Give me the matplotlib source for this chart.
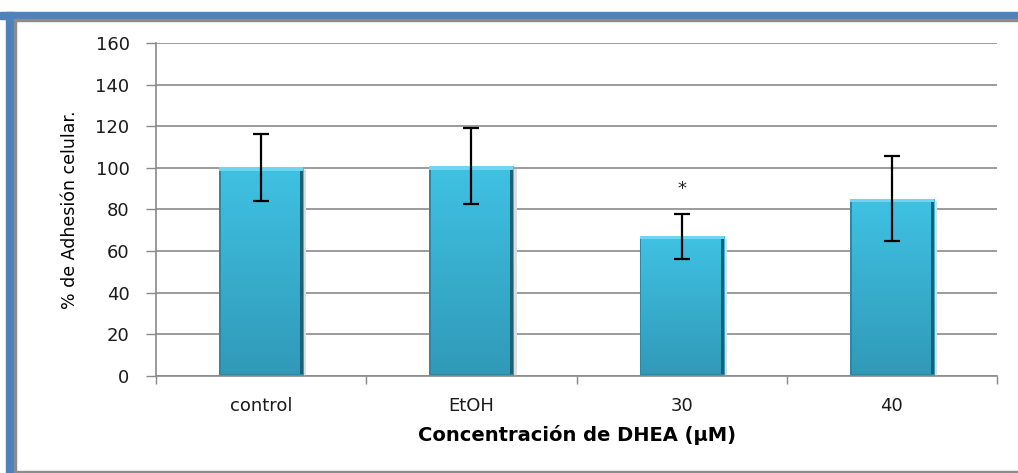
import numpy as np
import matplotlib.pyplot as plt
from matplotlib.patches import Rectangle

categories = ['control', 'EtOH', '30', '40']
adhesion = [100.2, 100.8, 67.2, 85.2]
sd = [16.2, 18.2, 10.8, 20.4]
y_ticks = [0, 20, 40, 60, 80, 100, 120, 140, 160]
signif = ['', '', '*', '']


def draw_frame(fig):
    # blue border on top and left, thin grey inner border
    W, H = 1018, 473
    def box(x0, y0, x1, y1, color):
        fig.patches.append(Rectangle((x0 / W, 1 - y1 / H), (x1 - x0) / W, (y1 - y0) / H,
                                     transform=fig.transFigure, color=color, zorder=0))
    box(0, 12, W, 19, '#4F81BD')
    box(6, 12, 14, H, '#4F81BD')
    box(14, 19, W, 21, '#8C8C8C')
    box(14, 19, 16, H, '#8C8C8C')
    box(14, 471, W, 473, '#8C8C8C')


def gradient_bars(ax, bars):
    grad = np.linspace(0, 1, 256).reshape(-1, 1)
    top = np.array([0.25, 0.76, 0.89])
    bot = np.array([0.19, 0.60, 0.72])
    img = top[None, None, :] * (1 - grad[:, :, None]) + bot[None, None, :] * grad[:, :, None]
    for b in bars:
        x, w, h = b.get_x(), b.get_width(), b.get_height()
        # soft shadow
        ax.add_patch(Rectangle((x + 0.015, -1.2), w, h, color='#dcdcdc', zorder=1.5, lw=0))
        im = ax.imshow(img, extent=(x, x + w, 0, h), aspect='auto', origin='upper', zorder=2)
        im.set_clip_path(b)
        # darker sides, light top rim
        ax.add_patch(Rectangle((x + w * 0.965, 0), w * 0.035, h, color='#1d5f73', zorder=2.2, lw=0))
        ax.add_patch(Rectangle((x, 0), w * 0.02, h, color='#2a8aa5', zorder=2.2, lw=0))
        ax.add_patch(Rectangle((x, h - 1.6), w, 1.6, color='#6fd6f2', zorder=2.2, lw=0))
        ax.add_patch(Rectangle((x, 0), w, 1.2, color='#2a8aa5', zorder=2.2, lw=0))


def main():
    fig = plt.figure(figsize=(10.18, 4.73), dpi=100)
    draw_frame(fig)
    ax = fig.add_axes([156 / 1018, 1 - 376 / 473, (997 - 156) / 1018, (376 - 43) / 473])

    x = np.arange(len(categories))
    bars = ax.bar(x, adhesion, width=0.4, color='none', edgecolor='none', zorder=2)
    gradient_bars(ax, bars)
    ax.errorbar(x, adhesion, yerr=sd, fmt='none', ecolor='black', elinewidth=1.6,
                capsize=5.5, capthick=1.6, zorder=4)
    for xi, m, s, t in zip(x, adhesion, sd, signif):
        if t:
            ax.text(xi, m + s + 12, t, ha='center', va='center', fontsize=13, color='#222222')

    ax.set_xlim(-0.5, len(categories) - 0.5)
    ax.set_ylim(0, 160)
    ax.set_yticks(y_ticks)
    ax.set_yticklabels([str(v) for v in y_ticks], fontsize=13, color='#1a1a1a')
    ax.set_xticks(x)
    ax.set_xticklabels(categories, fontsize=13, color='#1a1a1a')
    ax.set_xticks(np.arange(len(categories) + 1) - 0.5, minor=True)
    ax.tick_params(axis='x', which='major', length=0, pad=15)
    ax.tick_params(axis='x', which='minor', length=6, color='#888888', width=1)
    ax.tick_params(axis='y', length=7, color='#888888', width=1, pad=12)

    ax.yaxis.grid(True, color='#8a8a8a', linewidth=1.2)
    ax.set_axisbelow(True)
    for s in ['top', 'right']:
        ax.spines[s].set_visible(False)
    for s in ['left', 'bottom']:
        ax.spines[s].set_color('#8a8a8a')
        ax.spines[s].set_linewidth(1.2)

    ax.set_ylabel('% de Adhesión celular.', fontsize=12.5, labelpad=12)
    ax.set_xlabel('Concentración de DHEA (µM)', fontsize=14, fontweight='bold', labelpad=7)

    fig.savefig('out.png', dpi=100)


if __name__ == "__main__":
    main()
